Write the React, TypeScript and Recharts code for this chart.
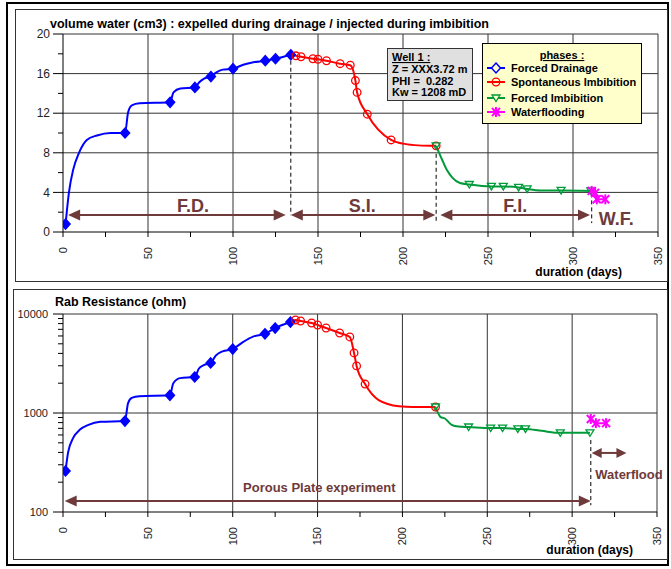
import React from "react";
import { ComposedChart, Line, XAxis, YAxis, ReferenceLine, ReferenceDot } from "recharts";

type Pt = { t: number; v: number };

// ---- top chart : volume of water (cm3) ----
const fdVolMarks: Pt[] = [
  { t: 1.5, v: 0.8 }, { t: 36.5, v: 10.0 }, { t: 63, v: 13.1 }, { t: 77.6, v: 14.6 }, { t: 87, v: 15.7 },
  { t: 100, v: 16.5 }, { t: 119, v: 17.3 }, { t: 125, v: 17.5 }, { t: 134, v: 17.9 },
];
const fdVolTrace: Pt[] = [
  { t: 2.5, v: 2.5 }, { t: 3.5, v: 4.0 }, { t: 6, v: 6.3 }, { t: 9.4, v: 8.0 }, { t: 14, v: 9.3 },
  { t: 20, v: 9.75 }, { t: 28, v: 10.0 }, { t: 38.3, v: 12.1 }, { t: 40.5, v: 12.8 }, { t: 45, v: 13.0 },
  { t: 65, v: 14.1 }, { t: 69, v: 14.5 }, { t: 80, v: 15.1 }, { t: 83, v: 15.5 }, { t: 90, v: 16.1 },
  { t: 94, v: 16.4 }, { t: 106, v: 16.9 }, { t: 112, v: 17.15 },
];
const siVolMarks: Pt[] = [
  { t: 137, v: 17.8 }, { t: 140, v: 17.7 }, { t: 147, v: 17.5 }, { t: 150, v: 17.45 }, { t: 155, v: 17.3 },
  { t: 163, v: 17.0 }, { t: 169, v: 16.85 }, { t: 172, v: 15.3 }, { t: 173, v: 14.1 }, { t: 179, v: 11.9 },
  { t: 193, v: 9.3 }, { t: 219.5, v: 8.7 },
];
const siVolTrace: Pt[] = [{ t: 134, v: 17.9 }, { t: 201, v: 8.9 }, { t: 209, v: 8.75 }];
const fiVolMarks: Pt[] = [
  { t: 219.5, v: 8.7 }, { t: 239, v: 4.8 }, { t: 252, v: 4.6 }, { t: 259, v: 4.6 }, { t: 268, v: 4.5 },
  { t: 273, v: 4.35 }, { t: 293, v: 4.2 }, { t: 310.5, v: 4.15 },
];
const fiVolTrace: Pt[] = [{ t: 223, v: 7.3 }, { t: 226, v: 6.2 }, { t: 229, v: 5.5 }, { t: 233.5, v: 4.95 }, { t: 281, v: 4.2 }];
const wfVolMarks: Pt[] = [{ t: 311, v: 4.15 }, { t: 313, v: 3.95 }, { t: 314, v: 3.3 }, { t: 319, v: 3.3 }];

// ---- bottom chart : Rab resistance (ohm) ----
const fdResMarks: Pt[] = [
  { t: 1.5, v: 260 }, { t: 36.5, v: 830 }, { t: 63, v: 1510 }, { t: 77.6, v: 2310 }, { t: 87, v: 3200 },
  { t: 100, v: 4430 }, { t: 119, v: 6300 }, { t: 125, v: 7220 }, { t: 134, v: 8300 },
];
const fdResTrace: Pt[] = [
  { t: 3, v: 400 }, { t: 6, v: 560 }, { t: 10, v: 680 }, { t: 15, v: 760 }, { t: 22, v: 815 },
  { t: 38.3, v: 1250 }, { t: 40.5, v: 1420 }, { t: 45, v: 1480 }, { t: 65, v: 2000 }, { t: 69, v: 2250 },
  { t: 80, v: 2800 }, { t: 83, v: 3050 }, { t: 90, v: 3800 }, { t: 94, v: 4200 }, { t: 106, v: 5200 }, { t: 112, v: 5900 },
];
const siResMarks: Pt[] = [
  { t: 137, v: 8700 }, { t: 140, v: 8500 }, { t: 146.5, v: 8110 }, { t: 150, v: 7740 }, { t: 155, v: 7220 },
  { t: 163, v: 6430 }, { t: 169, v: 5860 }, { t: 171.5, v: 4040 }, { t: 173, v: 2990 }, { t: 178, v: 1960 },
  { t: 219.5, v: 1150 },
];
const siResTrace: Pt[] = [{ t: 134, v: 8300 }, { t: 186, v: 1350 }, { t: 198, v: 1170 }, { t: 206, v: 1150 }];
const fiResMarks: Pt[] = [
  { t: 219.5, v: 1150 }, { t: 239, v: 722 }, { t: 252, v: 705 }, { t: 259, v: 705 }, { t: 268, v: 690 },
  { t: 272.5, v: 690 }, { t: 293, v: 630 }, { t: 310.5, v: 630 },
];
const fiResTrace: Pt[] = [{ t: 222.5, v: 910 }, { t: 225, v: 880 }, { t: 229, v: 760 }, { t: 233, v: 730 }, { t: 282, v: 660 }];
const wfResMarks: Pt[] = [{ t: 311, v: 870 }, { t: 314, v: 790 }, { t: 320, v: 790 }];

// ticks
const xTicks = [0, 25, 50, 75, 100, 125, 150, 175, 200, 225, 250, 275, 300, 325, 350];
const volTicks = [0, 2, 4, 6, 8, 10, 12, 14, 16, 18, 20];
const resTicks = [100, 200, 300, 400, 500, 600, 700, 800, 900, 1000, 2000, 3000, 4000, 5000, 6000, 7000, 8000, 9000, 10000];
const xGrid = [50, 100, 150, 200, 250, 300, 350];
const volGrid = [4, 8, 12, 16, 20];
const resGrid = [1000, 10000];

const phaseNames = ["Forced Drainage", "Spontaneous Imbibition", "Forced Imbibition", "Waterflooding"];
const wellLines = ["Z = XXX3.72 m", "PHI =  0.282", "Kw = 1208 mD"];

const FONT = "'Liberation Sans', Arial, Helvetica, sans-serif";
const BLUE = "#0000FF";
const RED = "#FF0000";
const GREEN = "#009a3a";
const MAGENTA = "#FF00FF";
const BROWN = "#6e3a3a";
const GRID = "#333";

const curve = (a: Pt[], b: Pt[]) => [...a, ...b].sort((p, q) => p.t - q.t);

// marker shapes
function marker(kind: number, cx: number, cy: number, key?: any, legend = false) {
  if (cx == null || cy == null) return null;
  if (kind === 0)
    return <path key={key} d={`M${cx},${cy - 5}L${cx + 4.5},${cy}L${cx},${cy + 5}L${cx - 4.5},${cy}Z`}
      fill={legend ? "#FFFFCC" : BLUE} stroke={BLUE} strokeWidth={1.5} />;
  if (kind === 1) return <circle key={key} cx={cx} cy={cy} r={3.8} fill="none" stroke={RED} strokeWidth={1.3} />;
  if (kind === 2)
    return <polygon key={key} points={`${cx - 4},${cy - 3} ${cx + 4},${cy - 3} ${cx},${cy + 3.5}`}
      fill={legend ? "#FFFFCC" : "none"} stroke={GREEN} strokeWidth={1.3} />;
  return (
    <g key={key} stroke={MAGENTA} strokeWidth={2}>
      <line x1={cx - 4} y1={cy - 4} x2={cx + 4} y2={cy + 4} />
      <line x1={cx - 4} y1={cy + 4} x2={cx + 4} y2={cy - 4} />
      <line x1={cx} y1={cy - 5} x2={cx} y2={cy + 5} />
    </g>
  );
}
const dotOf = (kind: number) => (p: any) => marker(kind, p.cx, p.cy, p.index);

const arrowShape = (head: number, half: number) => (p: any) => {
  const a = Math.min(p.x1, p.x2);
  const b = Math.max(p.x1, p.x2);
  const y = p.y1;
  return (
    <g>
      <line x1={a + head - 1} y1={y} x2={b - head + 1} y2={y} stroke={BROWN} strokeWidth={2} />
      <polygon points={`${a},${y} ${a + head},${y - half} ${a + head},${y + half}`} fill={BROWN} />
      <polygon points={`${b},${y} ${b - head},${y - half} ${b - head},${y + half}`} fill={BROWN} />
    </g>
  );
};

const textShape = (txt: string, size: number) => (p: any) => (
  <text x={p.cx} y={p.cy} dy="0.35em" textAnchor="middle" fontFamily={FONT} fontWeight="bold" fontSize={size} fill={BROWN}>
    {txt}
  </text>
);

const XTick = (p: any) => {
  const { x, y, payload } = p;
  const v = payload.value;
  return (
    <g>
      <line x1={x} y1={y} x2={x} y2={y + 5} stroke="#000" />
      {v % 50 === 0 && (
        <text x={x} y={y + 15} transform={`rotate(-90 ${x} ${y + 15})`} textAnchor="end" dy="0.35em"
          fontSize={11} fill="#222" fontFamily={FONT}>
          {v}
        </text>
      )}
    </g>
  );
};

const VolTick = (p: any) => {
  const { x, y, payload } = p;
  const major = payload.value % 4 === 0;
  return (
    <g>
      <line x1={x - (major ? 10 : 5)} y1={y} x2={x} y2={y} stroke="#000" />
      {major && (
        <text x={x - 13} y={y} dy="0.35em" textAnchor="end" fontSize={12} fill="#222" fontFamily={FONT}>
          {payload.value}
        </text>
      )}
    </g>
  );
};

const ResTick = (p: any) => {
  const { x, y, payload } = p;
  const major = [100, 1000, 10000].includes(payload.value);
  return (
    <g>
      <line x1={x - (major ? 10 : 5)} y1={y} x2={x} y2={y} stroke="#000" />
      {major && (
        <text x={x - 15} y={y} dy="0.35em" textAnchor="end" fontSize={11} fill="#222" fontFamily={FONT}>
          {payload.value}
        </text>
      )}
    </g>
  );
};

const dashed = (x: number, y1: number, y2: number) => (
  <ReferenceLine key={`d${x}`} segment={[{ x, y: y1 }, { x, y: y2 }]} stroke="#000" strokeDasharray="4 3" />
);

function VolumeChart() {
  const colors = [BLUE, RED, GREEN, MAGENTA];
  const series = [
    [fdVolMarks, fdVolTrace], [siVolMarks, siVolTrace], [fiVolMarks, fiVolTrace], [wfVolMarks, []],
  ] as Pt[][][];
  return (
    <ComposedChart width={671} height={285} margin={{ top: 34, right: 13, left: 13, bottom: 23 }}>
      <XAxis type="number" dataKey="t" domain={[0, 350]} ticks={xTicks} interval={0} allowDataOverflow
        tick={XTick} tickSize={0} tickMargin={0} tickLine={false} axisLine={{ stroke: "#000" }} height={30} />
      <YAxis type="number" domain={[0, 20]} ticks={volTicks} interval={0} allowDataOverflow width={50}
        tick={VolTick} tickSize={0} tickMargin={0} tickLine={false} axisLine={{ stroke: "#000" }} />
      {xGrid.map((x) => <ReferenceLine key={`x${x}`} x={x} stroke={GRID} />)}
      {volGrid.map((y) => <ReferenceLine key={`y${y}`} y={y} stroke={GRID} />)}
      {dashed(134, 17.3, 1.7)}
      {dashed(219.5, 7.9, 1.0)}
      {dashed(311, 3.9, 0.9)}
      <ReferenceLine segment={[{ x: 3, y: 1.72 }, { x: 131, y: 1.72 }]} shape={arrowShape(12, 5.5)} />
      <ReferenceLine segment={[{ x: 134, y: 1.72 }, { x: 219, y: 1.72 }]} shape={arrowShape(12, 5.5)} />
      <ReferenceLine segment={[{ x: 222, y: 1.72 }, { x: 310, y: 1.72 }]} shape={arrowShape(12, 5.5)} />
      <ReferenceDot x={76.5} y={2.7} r={0} shape={textShape("F.D.", 18)} />
      <ReferenceDot x={176} y={2.7} r={0} shape={textShape("S.I.", 18)} />
      <ReferenceDot x={266} y={2.7} r={0} shape={textShape("F.I.", 18)} />
      <ReferenceDot x={325.5} y={1.3} r={0} shape={textShape("W.F.", 18)} />
      {series.map(([m, tr], i) => (
        <Line key={`c${i}`} data={curve(m, tr)} dataKey="v" type="monotone" stroke={colors[i]} strokeWidth={2}
          dot={false} isAnimationActive={false} />
      ))}
      {series.map(([m], i) => (
        <Line key={`m${i}`} data={m} dataKey="v" stroke="none" dot={dotOf(i)} isAnimationActive={false} />
      ))}
    </ComposedChart>
  );
}

function ResistanceChart() {
  const colors = [BLUE, RED, GREEN, MAGENTA];
  const series = [
    [fdResMarks, fdResTrace], [siResMarks, siResTrace], [fiResMarks, fiResTrace], [wfResMarks, []],
  ] as Pt[][][];
  return (
    <ComposedChart width={671} height={284} margin={{ top: 29, right: 14, left: 13, bottom: 27 }}>
      <XAxis type="number" dataKey="t" domain={[0, 350]} ticks={xTicks} interval={0} allowDataOverflow
        tick={XTick} tickSize={0} tickMargin={0} tickLine={false} axisLine={{ stroke: "#000" }} height={30} />
      <YAxis type="number" scale="log" domain={[100, 10000]} ticks={resTicks} interval={0} allowDataOverflow width={50}
        tick={ResTick} tickSize={0} tickMargin={0} tickLine={false} axisLine={{ stroke: "#000" }} />
      {xGrid.map((x) => <ReferenceLine key={`x${x}`} x={x} stroke={GRID} />)}
      {resGrid.map((y) => <ReferenceLine key={`y${y}`} y={y} stroke={GRID} />)}
      {dashed(311, 533, 117)}
      <ReferenceLine segment={[{ x: 1, y: 129 }, { x: 311, y: 129 }]} shape={arrowShape(12, 5.5)} />
      <ReferenceLine segment={[{ x: 311.5, y: 395 }, { x: 332, y: 395 }]} shape={arrowShape(10, 5)} />
      <ReferenceDot x={151} y={179} r={0} shape={textShape("Porous Plate experiment", 13)} />
      <ReferenceDot x={333.5} y={242} r={0} shape={textShape("Waterflood", 13)} />
      {series.map(([m, tr], i) => (
        <Line key={`c${i}`} data={curve(m, tr)} dataKey="v" type="monotone" stroke={colors[i]} strokeWidth={2}
          dot={false} isAnimationActive={false} />
      ))}
      {series.map(([m], i) => (
        <Line key={`m${i}`} data={m} dataKey="v" stroke="none" dot={dotOf(i)} isAnimationActive={false} />
      ))}
    </ComposedChart>
  );
}

function Overlay() {
  const colors = [BLUE, RED, GREEN, MAGENTA];
  const txt = { fontFamily: FONT, fontWeight: "bold" as const, fill: "#000" };
  return (
    <svg width={671} height={569} style={{ position: "absolute", left: 0, top: 0 }}>
      <rect x={7} y={3} width={661} height={562} fill="none" stroke="#000" strokeWidth={2} />
      <rect x={15.5} y={9.5} width={652} height={272} fill="none" stroke="#333" />
      <rect x={13.5} y={289.5} width={654} height={270} fill="none" stroke="#333" />
      <text x={50} y={27.5} fontSize={12.5} {...txt}>
        volume water (cm3) : expelled during drainage / injected during imbibition
      </text>
      <text x={55} y={306} fontSize={12.5} {...txt}>Rab Resistance (ohm)</text>
      <text x={622} y={276} fontSize={12} textAnchor="end" {...txt}>duration (days)</text>
      <text x={633} y={554} fontSize={12} textAnchor="end" {...txt}>duration (days)</text>

      <rect x={387.5} y={48.5} width={85} height={52} fill="#e0e0e0" stroke="#333" />
      <text x={392} y={61} fontSize={11} textDecoration="underline" {...txt}>Well 1 :</text>
      {wellLines.map((l, i) => (
        <text key={l} x={392} y={73 + i * 11.5} fontSize={11} {...txt} style={{ whiteSpace: "pre" }}>{l}</text>
      ))}

      <rect x={482.5} y={43.5} width={159} height={80} fill="#FFFFCC" stroke="#000" />
      <text x={562} y={59} fontSize={11} textAnchor="middle" textDecoration="underline" {...txt}>phases :</text>
      {phaseNames.map((n, i) => {
        const cy = [68, 82, 98, 112][i];
        return (
          <g key={n}>
            <line x1={487} y1={cy} x2={505} y2={cy} stroke={colors[i]} strokeWidth={2} />
            {marker(i, 496, cy, undefined, true)}
            <text x={511} y={cy + 4} fontSize={11} {...txt}>{n}</text>
          </g>
        );
      })}
    </svg>
  );
}

export default function App() {
  return (
    <div style={{ position: "absolute", left: 0, top: 0, width: 671, height: 569, background: "#fff" }}>
      <div style={{ position: "absolute", left: 0, top: 0 }}>
        <VolumeChart />
      </div>
      <div style={{ position: "absolute", left: 0, top: 285 }}>
        <ResistanceChart />
      </div>
      <Overlay />
    </div>
  );
}
